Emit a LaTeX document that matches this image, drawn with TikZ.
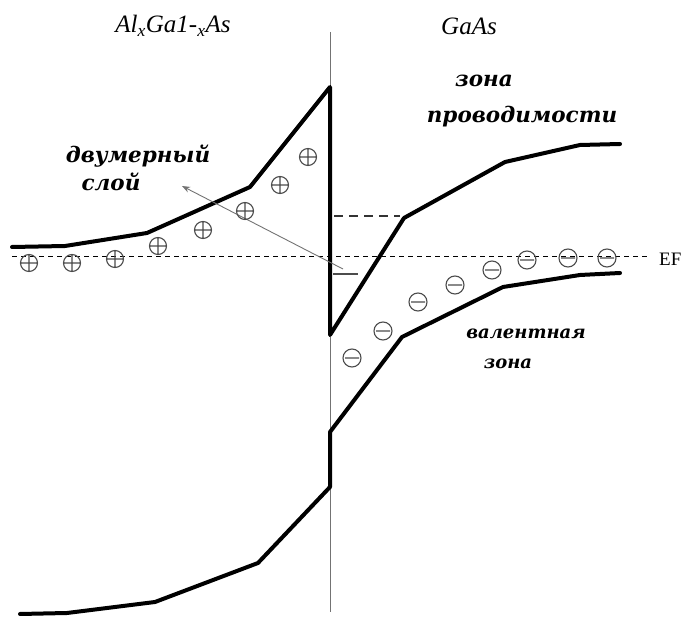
\documentclass[tikz,border=0pt]{standalone}
\usepackage{fontspec}
\setmainfont{Liberation Serif}
\newfontfamily\rusfont{DejaVu Serif}
\usetikzlibrary{arrows.meta}
\begin{document}
\begin{tikzpicture}[x=1pt,y=-1pt,
  band/.style={line width=4pt, line join=round, line cap=round},
  thinline/.style={line width=0.9pt, black!55},
  fermi/.style={line width=0.9pt, dash pattern=on 5pt off 4pt},
  level/.style={line width=1.8pt, dash pattern=on 9pt off 6pt, black!80},
  chg/.style={line width=1.1pt, black!70},
  mat/.style={font=\fontsize{25}{28}\selectfont\itshape},
  lbl/.style={font=\rusfont\fontsize{21.5}{24}\selectfont\bfseries\itshape},
  slbl/.style={font=\rusfont\fontsize{18}{21}\selectfont\bfseries\itshape},
  plus/.pic={\draw[chg] (0,0) circle (8.5) (-8.5,0) -- (8.5,0) (0,-8.5) -- (0,8.5);},
  minus/.pic={\draw[chg] (0,0) circle (9) (-7,0) -- (7,0);}
]
\useasboundingbox (0,0) rectangle (681,617);

% interface line
\coordinate (itop) at (330,32);
\coordinate (ibot) at (330,612);
\draw[thinline] (itop) -- (ibot);

% Fermi level
\coordinate (fl) at (12,256);
\coordinate (fr) at (650,256);
\draw[fermi] (fl) -- (fr);
\node[anchor=base west, font=\fontsize{19}{22}\selectfont, inner sep=0pt] (ef) at (659,266) {EF};

% conduction band
\draw[band] (12,247) -- (65,246) -- (147,233) -- (250,187) -- (330,87)
  -- (330,335) -- (404,218) -- (505,162) -- (580,145) -- (620,144);

% valence band
\draw[band] (620,273) -- (580,275) -- (503,287) -- (402,337) -- (330,432)
  -- (330,487) -- (258,563) -- (155,602) -- (67,613) -- (20,614);

% quantum levels
\coordinate (l1a) at (334,216);
\coordinate (l1b) at (400,216);
\draw[level] (l1a) -- (l1b);
\coordinate (l2a) at (333,274);
\coordinate (l2b) at (358,274);
\draw[line width=1.3pt, black!70] (l2a) -- (l2b);

% arrow to 2D layer
\coordinate (as) at (343,269);
\coordinate (ae) at (182,186);
\draw[thinline, -{Stealth[length=8pt,width=6pt]}] (as) -- (ae);

% positive charges
\foreach \p in {(29,263),(72,263),(115,259),(158,246),(203,230),(245,211),(280,185),(308,157)}
  \pic at \p {plus};

% negative charges
\foreach \p in {(352,358),(383,331),(418,302),(455,285),(492,270),(527,260),(568,258),(607,258)}
  \pic at \p {minus};

% labels
\node[mat] (alga) at (173,26) {Al\textsubscript{x}Ga1-\textsubscript{x}As};
\node[mat] (gaas) at (469,26) {GaAs};
\node[lbl] (z1) at (484,81) {зона};
\node[lbl] (z2) at (522,117) {проводимости};
\node[lbl] (d1) at (138,156) {двумерный};
\node[lbl] (d2) at (111,182) {слой};
\node[slbl] (v1) at (526,334) {валентная};
\node[slbl] (v2) at (508,364) {зона};
\end{tikzpicture}
\end{document}
